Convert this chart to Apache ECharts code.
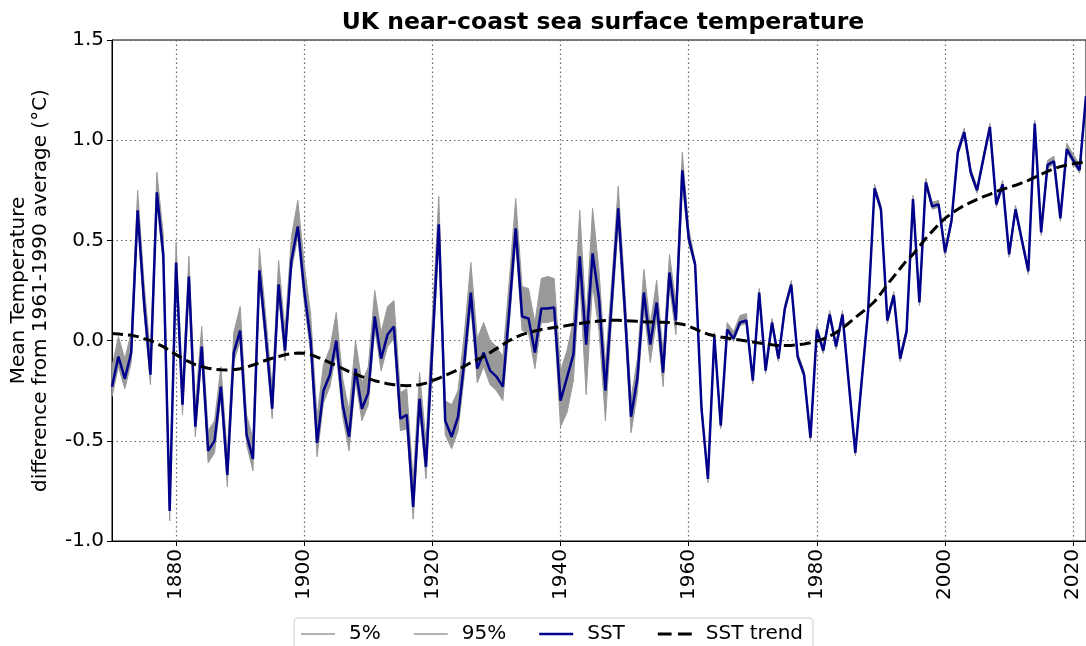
<!DOCTYPE html>
<html>
<head>
<meta charset="utf-8">
<script src="https://cdn.jsdelivr.net/npm/echarts@6/dist/echarts.min.js"></script>
<style>
html,body{margin:0;padding:0;background:#fff;}
#chart{width:1086px;height:646px;}
</style>
</head>
<body>
<div id="chart"></div>
<script>
const startYear = 1870;
const tickStep = 20;

const sst = [
 -0.23, -0.08, -0.19, -0.06, 0.65, 0.19, -0.17, 0.74, 0.43, -0.85,
 0.39, -0.32, 0.32, -0.43, -0.03, -0.55, -0.50, -0.23, -0.67, -0.06,
 0.05, -0.47, -0.59, 0.35, 0.02, -0.34, 0.28, -0.05, 0.40, 0.57,
 0.25, 0.00, -0.51, -0.25, -0.17, 0.00, -0.32, -0.48, -0.14, -0.34,
 -0.26, 0.12, -0.09, 0.03, 0.07, -0.39, -0.37, -0.83, -0.29, -0.63,
 -0.03, 0.58, -0.40, -0.48, -0.38, -0.10, 0.24, -0.14, -0.06, -0.15,
 -0.18, -0.23, 0.15, 0.56, 0.12, 0.11, -0.06, 0.16, 0.16, 0.165,
 -0.30, -0.185, -0.07, 0.42, -0.02, 0.435, 0.21, -0.25, 0.20, 0.66,
 0.17, -0.38, -0.185, 0.24, -0.02, 0.19, -0.16, 0.34, 0.10, 0.85,
 0.51, 0.38, -0.34, -0.69, 0.02, -0.425, 0.055, 0.01, 0.09, 0.10,
 -0.20, 0.24, -0.15, 0.09, -0.09, 0.16, 0.28, -0.08, -0.17, -0.485,
 0.055, -0.05, 0.13, -0.03, 0.13, -0.22, -0.56, -0.20, 0.15, 0.76,
 0.655, 0.10, 0.226, -0.09, 0.046, 0.706, 0.19, 0.79, 0.67, 0.68,
 0.44, 0.595, 0.94, 1.04, 0.84, 0.75, 0.91, 1.066, 0.68, 0.78,
 0.43, 0.655, 0.50, 0.346, 1.083, 0.54, 0.877, 0.895, 0.61, 0.955,
 0.90, 0.85, 1.22
];

const p5 = [
 -0.28, -0.13, -0.24, -0.11, 0.60, 0.14, -0.22, 0.69, 0.38, -0.90,
 0.34, -0.37, 0.27, -0.48, -0.08, -0.61, -0.56, -0.28, -0.73, -0.11,
 0.00, -0.52, -0.65, 0.30, -0.03, -0.39, 0.23, -0.10, 0.35, 0.52,
 0.19, -0.06, -0.58, -0.31, -0.23, -0.06, -0.38, -0.55, -0.20, -0.40,
 -0.32, 0.06, -0.15, -0.03, 0.01, -0.45, -0.44, -0.89, -0.35, -0.69,
 -0.10, 0.51, -0.47, -0.54, -0.45, -0.17, 0.17, -0.21, -0.13, -0.22,
 -0.25, -0.30, 0.08, 0.49, 0.05, 0.04, -0.14, 0.09, 0.09, 0.10,
 -0.43, -0.36, -0.20, 0.30, -0.27, 0.28, 0.05, -0.40, 0.12, 0.58,
 0.09, -0.46, -0.26, 0.16, -0.11, 0.11, -0.23, 0.27, 0.03, 0.78,
 0.48, 0.365, -0.355, -0.71, 0.005, -0.44, 0.04, -0.005, 0.075, 0.085,
 -0.215, 0.225, -0.165, 0.075, -0.105, 0.145, 0.265, -0.095, -0.185, -0.50,
 0.04, -0.065, 0.115, -0.045, 0.115, -0.235, -0.575, -0.215, 0.135, 0.745,
 0.64, 0.085, 0.21, -0.105, 0.03, 0.69, 0.175, 0.775, 0.655, 0.665,
 0.425, 0.58, 0.925, 1.025, 0.825, 0.735, 0.895, 1.05, 0.665, 0.765,
 0.415, 0.64, 0.485, 0.33, 1.07, 0.525, 0.86, 0.88, 0.595, 0.94,
 0.885, 0.835, 1.205
];

const p95 = [
 -0.13, 0.02, -0.09, 0.04, 0.75, 0.29, -0.07, 0.84, 0.53, -0.75,
 0.49, -0.22, 0.42, -0.33, 0.07, -0.45, -0.40, -0.13, -0.57, 0.04,
 0.17, -0.37, -0.49, 0.46, 0.12, -0.24, 0.40, 0.05, 0.52, 0.70,
 0.38, 0.13, -0.38, -0.12, -0.04, 0.14, -0.19, -0.35, 0.00, -0.21,
 -0.13, 0.25, 0.04, 0.17, 0.20, -0.26, -0.24, -0.70, -0.16, -0.50,
 0.12, 0.72, -0.30, -0.32, -0.25, 0.04, 0.39, 0.01, 0.09, 0.00,
 -0.03, -0.08, 0.30, 0.71, 0.27, 0.26, 0.09, 0.31, 0.32, 0.31,
 -0.15, -0.05, 0.10, 0.65, 0.10, 0.66, 0.35, -0.12, 0.30, 0.77,
 0.27, -0.29, -0.09, 0.355, 0.08, 0.30, -0.06, 0.43, 0.19, 0.94,
 0.56, 0.40, -0.32, -0.67, 0.04, -0.405, 0.09, 0.045, 0.125, 0.135,
 -0.18, 0.26, -0.13, 0.11, -0.07, 0.18, 0.30, -0.06, -0.15, -0.465,
 0.075, -0.03, 0.15, -0.01, 0.15, -0.20, -0.54, -0.18, 0.17, 0.78,
 0.675, 0.12, 0.245, -0.07, 0.065, 0.725, 0.21, 0.81, 0.69, 0.70,
 0.46, 0.615, 0.96, 1.06, 0.86, 0.77, 0.93, 1.085, 0.70, 0.80,
 0.45, 0.675, 0.52, 0.365, 1.10, 0.56, 0.90, 0.92, 0.63, 0.985,
 0.93, 0.88, 1.24
];

const trend = [
 0.035, 0.033, 0.03, 0.027, 0.02, 0.01, 0.0, -0.015, -0.03, -0.05,
 -0.07, -0.09, -0.105, -0.12, -0.13, -0.138, -0.143, -0.146, -0.147, -0.145,
 -0.14, -0.132, -0.122, -0.11, -0.098, -0.088, -0.079, -0.071, -0.065, -0.062,
 -0.063, -0.07, -0.082, -0.095, -0.11, -0.125, -0.14, -0.155, -0.168, -0.18,
 -0.19, -0.2, -0.208, -0.215, -0.22, -0.223, -0.225, -0.224, -0.22, -0.212,
 -0.2, -0.188, -0.174, -0.16, -0.145, -0.128, -0.11, -0.095, -0.08, -0.06,
 -0.04, -0.02, 0.0, 0.017, 0.03, 0.04, 0.048, 0.055, 0.06, 0.065,
 0.07, 0.075, 0.08, 0.085, 0.09, 0.094, 0.098, 0.1, 0.102, 0.102,
 0.1, 0.098, 0.096, 0.094, 0.093, 0.092, 0.091, 0.09, 0.087, 0.082,
 0.072, 0.058, 0.043, 0.032, 0.024, 0.018, 0.013, 0.008, 0.003, -0.002,
 -0.007, -0.012, -0.017, -0.021, -0.024, -0.025, -0.024, -0.021, -0.017, -0.011,
 -0.003, 0.008, 0.022, 0.04, 0.062, 0.088, 0.115, 0.14, 0.165, 0.195,
 0.235, 0.28, 0.32, 0.36, 0.40, 0.43, 0.47, 0.51, 0.545, 0.58,
 0.61, 0.635, 0.655, 0.675, 0.69, 0.705, 0.718, 0.73, 0.745, 0.755,
 0.765, 0.775, 0.787, 0.80, 0.815, 0.83, 0.845, 0.858, 0.868, 0.876,
 0.882, 0.887, 0.893
];

const years = sst.map((_, i) => String(startYear + i));
const bandWidth = p95.map((v, i) => +(v - p5[i]).toFixed(4));
const isTick = (idx) => (startYear + idx) % tickStep === 0;

const FONT = 'DejaVu Sans';
const chart = echarts.init(document.getElementById('chart'), null, {renderer: 'canvas'});
chart.setOption({
  animation: false,
  backgroundColor: '#fff',
  textStyle: {fontFamily: FONT},
  title: {
    text: 'UK near-coast sea surface temperature',
    left: 598, top: 6, textAlign: 'center',
    textStyle: {fontFamily: FONT, fontSize: 23.5, fontWeight: 'bold', color: '#000'}
  },
  legend: {
    left: 294, top: 618,
    data: [
      {name: '5%', icon: 'path://M0,0H34V1.6H0Z'},
      {name: '95%', icon: 'path://M0,0H34V1.6H0Z'},
      {name: 'SST', icon: 'path://M0,0H34V2.6H0Z'},
      {name: 'SST trend', icon: 'path://M0,0H13V3H0Z M19,0H32V3H19Z'}
    ],
    itemWidth: 34, itemHeight: 14, itemGap: 33, symbolKeepAspect: true,
    padding: [6, 10, 8, 7],
    borderColor: '#cccccc', borderWidth: 1, borderRadius: 4,
    textStyle: {fontFamily: FONT, fontSize: 20, color: '#000', padding: [0, 0, 0, 9]}
  },
  grid: {
    left: 112, top: 40, right: -1.4, bottom: 105,
    show: true, borderColor: '#000', borderWidth: 1, backgroundColor: 'transparent'
  },
  xAxis: {
    type: 'category', data: years, boundaryGap: false,
    axisLine: {show: true, onZero: false, lineStyle: {color: '#000', width: 1}},
    axisTick: {show: true, inside: false, length: 5, interval: isTick, lineStyle: {color: '#000'}},
    axisLabel: {rotate: 90, fontSize: 20, color: '#000', fontFamily: FONT, margin: 8, interval: isTick},
    splitLine: {show: true, interval: isTick, lineStyle: {color: '#666', type: [1.5, 3], width: 1.2}}
  },
  yAxis: {
    type: 'value', min: -1, max: 1.5, interval: 0.5,
    name: 'Mean Temperature\ndifference from 1961-1990 average (°C)',
    nameLocation: 'middle', nameGap: 60, nameRotate: 90,
    nameTextStyle: {fontFamily: FONT, fontSize: 20, color: '#000', lineHeight: 22, align: 'center'},
    axisLine: {show: true, lineStyle: {color: '#000', width: 1}},
    axisTick: {show: true, inside: false, length: 5, lineStyle: {color: '#000'}},
    axisLabel: {fontSize: 20, color: '#000', fontFamily: FONT, margin: 8, formatter: v => v.toFixed(1)},
    splitLine: {show: true, lineStyle: {color: '#666', type: [1.5, 3], width: 1.2}}
  },
  series: [
    {
      name: '5%', type: 'line', data: p5, stack: 'band', stackStrategy: 'all',
      symbol: 'none', lineStyle: {color: '#999999', width: 1}, itemStyle: {color: '#999999'}, z: 1
    },
    {
      name: '95%', type: 'line', data: bandWidth, stack: 'band', stackStrategy: 'all',
      symbol: 'none', lineStyle: {color: '#999999', width: 1}, itemStyle: {color: '#999999'},
      areaStyle: {color: '#999999', opacity: 1}, z: 1
    },
    {
      name: 'SST', type: 'line', data: sst, symbol: 'none',
      lineStyle: {color: '#00008B', width: 2.5}, itemStyle: {color: '#00008B'}, z: 3
    },
    {
      name: 'SST trend', type: 'line', data: trend, symbol: 'none',
      lineStyle: {color: '#000', width: 3, type: [11, 5]}, itemStyle: {color: '#000'}, z: 4
    }
  ]
});
</script>
</body>
</html>
